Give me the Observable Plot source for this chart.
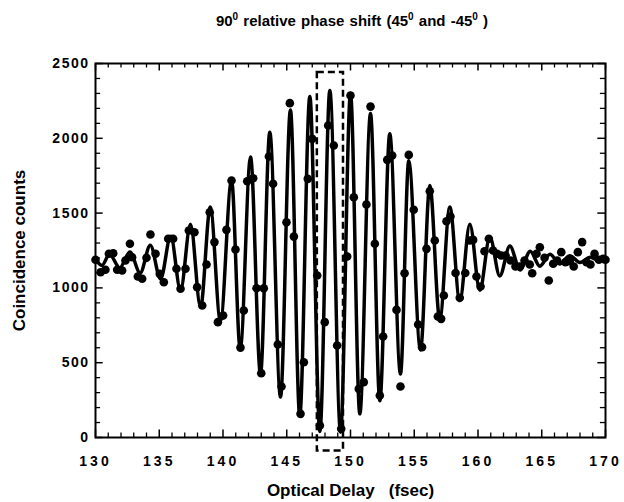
<!DOCTYPE html>
<html><head><meta charset="utf-8">
<script src="https://cdn.jsdelivr.net/npm/d3@7"></script>
<script src="https://cdn.jsdelivr.net/npm/@observablehq/plot@0.6"></script>
<style>
body{margin:0;background:#fff;font-family:"Liberation Sans",Arial,sans-serif;}
#title{box-sizing:border-box;width:624px;height:40px;padding-left:80px;padding-top:11px;text-align:center;font-weight:bold;font-size:15px;word-spacing:1px;color:#000;}
#title sup{font-size:10px;}
.xl text{letter-spacing:3px;}
.yl text{letter-spacing:1.5px;}
</style></head><body>
<div id="title">90<sup>0</sup> relative phase shift (45<sup>0</sup> and -45<sup>0</sup> )</div>
<div id="chart"></div>
<script>
// measured points: optical delay (fsec) and coincidence counts
const delay = [130.0,130.4,130.78,131.05,131.39,131.7,132.09,132.35,132.7,132.87,133.32,133.66,134.0,134.31,134.71,135.04,135.36,135.7,136.09,136.35,136.67,137.06,137.32,137.76,137.97,138.37,138.71,138.96,139.33,139.6,140.01,140.27,140.67,140.98,141.37,141.63,141.9,142.37,142.63,143.0,143.2,143.6,143.93,144.3,144.59,144.98,145.24,145.56,146.08,146.34,146.65,147.0,147.39,147.6,147.98,148.25,148.69,148.95,149.27,149.74,150.0,150.26,150.65,151.04,151.25,151.57,151.91,152.3,152.56,152.88,153.27,153.61,153.92,154.24,154.57,154.96,155.31,155.61,155.96,156.22,156.61,156.85,157.11,157.32,157.53,157.84,158.24,158.57,159.0,159.36,159.62,159.88,160.2,160.51,160.85,161.18,161.5,161.82,162.16,162.55,162.94,163.28,163.65,164.06,164.25,164.59,164.85,165.22,165.55,165.9,166.21,166.53,166.86,167.2,167.51,167.83,168.17,168.51,168.82,169.14,169.48,169.81,170.0];
const counts = [1188,1105,1121,1228,1232,1121,1116,1183,1295,1205,1076,1061,1201,1357,1228,1094,1038,1328,1328,1128,994,1128,1384,1372,1005,882,1156,1506,1306,771,815,1388,1718,1257,601,849,1713,1733,998,430,998,1878,1696,622,341,1439,2235,1343,158,503,1729,1996,1083,80,771,2085,1952,615,58,1210,2286,1606,325,370,1557,2212,1295,281,675,1856,1885,853,341,1098,1889,1522,755,604,1261,1646,1317,809,793,949,1446,1477,1100,934,1100,1317,1321,1076,1009,1245,1328,1250,1228,1217,1217,1183,1143,1143,1183,1156,1098,1228,1272,1201,1049,1161,1183,1239,1172,1179,1143,1239,1306,1172,1156,1228,1188,1194,1188];
// fitted curve, read at its peaks and troughs
const fitDelay = [130.0,130.5,131.1,131.9,132.7,133.5,134.3,135.1,135.9,136.67,137.45,138.24,139.0,139.8,140.67,141.35,142.16,142.94,143.67,144.51,145.29,146.02,146.81,147.6,148.38,149.22,150.0,150.73,151.57,152.3,153.08,153.92,154.57,155.49,156.22,157.0,157.79,158.57,159.36,160.14,160.93,161.71,162.5,163.3,164.1,164.85,165.65,166.4,167.2,168.0,168.8,169.6,170.0];
const fitCounts = [1195,1150,1225,1135,1240,1100,1285,1060,1345,985,1425,870,1540,780,1720,590,1875,425,2040,270,2190,145,2280,40,2320,35,2300,158,2165,245,2030,425,1850,585,1685,790,1540,915,1425,985,1340,1080,1280,1120,1245,1145,1225,1160,1215,1170,1205,1180,1190];
const xTicks = [130,135,140,145,150,155,160,165,170];
const xMinor = d3.range(130,171,1);
const yTicks = [0,500,1000,1500,2000,2500];
const yMinor = d3.range(0,2501,100);
const boxX = [147.4,149.45];
const boxY = [-90,2440];

const pts = delay.map((d,i)=>({x:d,y:counts[i]}));
const fit = fitDelay.map((d,i)=>({x:d,y:fitCounts[i]}));
const box = [{x1:boxX[0],x2:boxX[1],y1:boxY[0],y2:boxY[1]}];
const xMinorOnly = xMinor.filter(v=>!xTicks.includes(v));
const yMinorOnly = yMinor.filter(v=>!yTicks.includes(v));

const chart = Plot.plot({
  width:624, height:462,
  marginLeft:95, marginRight:19, marginTop:23, marginBottom:65,
  x:{domain:[130,170]}, y:{domain:[0,2500]},
  axis:null,
  style:{fontFamily:"'Liberation Sans', Arial, sans-serif", color:"#000", background:"#fff"},
  marks:[
    Plot.ruleX(xMinorOnly,{x:d=>d,y1:0,y2:30,strokeWidth:1.3}),
    Plot.ruleX(xTicks,{x:d=>d,y1:0,y2:50,strokeWidth:1.5}),
    Plot.ruleX(xMinorOnly,{x:d=>d,y1:2500,y2:2470,strokeWidth:1.3}),
    Plot.ruleX(xTicks,{x:d=>d,y1:2500,y2:2450,strokeWidth:1.5}),
    Plot.ruleY(yMinorOnly,{y:d=>d,x1:130,x2:130.4,strokeWidth:1.3}),
    Plot.ruleY(yTicks,{y:d=>d,x1:130,x2:130.6,strokeWidth:1.5}),
    Plot.ruleY(yMinorOnly,{y:d=>d,x1:170,x2:169.6,strokeWidth:1.3}),
    Plot.ruleY(yTicks,{y:d=>d,x1:170,x2:169.4,strokeWidth:1.5}),
    Plot.frame({stroke:"#000",strokeWidth:2}),
    Plot.rect(box,{x1:"x1",x2:"x2",y1:"y1",y2:"y2",fill:"none",stroke:"#000",strokeWidth:2.5,strokeDasharray:"7,4"}),
    Plot.line(fit,{x:"x",y:"y",curve:"monotone-x",stroke:"#000",strokeWidth:3.5}),
    Plot.dot(pts,{x:"x",y:"y",r:4.3,fill:"#000",stroke:"none"}),
    Plot.text(xTicks,{x:d=>d,frameAnchor:"bottom",dy:28,text:d=>String(d),fontSize:14,fontWeight:"bold",className:"xl"}),
    Plot.text(yTicks,{y:d=>d,frameAnchor:"left",dx:-6,textAnchor:"end",text:d=>String(d),fontSize:14,fontWeight:"bold",className:"yl"}),
    Plot.text(["Optical Delay   (fsec)"],{frameAnchor:"bottom",dy:58,textAnchor:"middle",text:d=>d,fontSize:17,fontWeight:"bold"}),
    Plot.text(["Coincidence counts"],{frameAnchor:"left",dx:-76,textAnchor:"middle",rotate:-90,text:d=>d,fontSize:17,fontWeight:"bold"})
  ]
});
document.getElementById("chart").appendChild(chart);
</script>
</body></html>
